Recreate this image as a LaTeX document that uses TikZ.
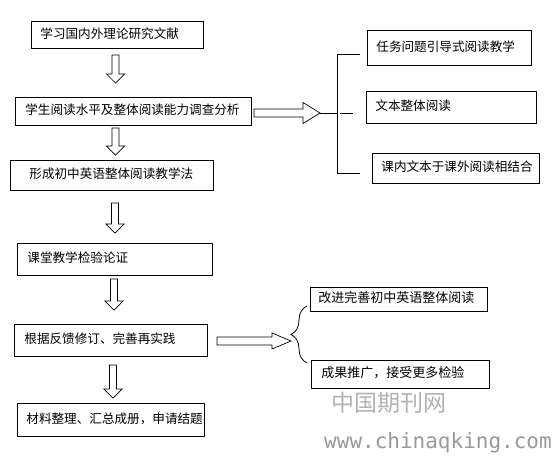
\documentclass[tikz,border=0pt]{standalone}
\usepackage{fontspec}
\setmainfont{Noto Sans CJK SC}
\newfontfamily\urlfont{DejaVu Sans Mono}
\usepackage{tikz}
\usetikzlibrary{positioning,decorations.pathreplacing}

\newcommand{\vblock}[5]{%
  \draw[blockarrow] (#1-#4,#2) -- (#1+#4,#2) -- (#1+#4,#3-9) -- (#1+#5,#3-9) -- (#1,#3)
    -- (#1-#5,#3-9) -- (#1-#4,#3-9) -- cycle;}
\newcommand{\hblock}[6]{%
  \draw[blockarrow] (#1,#3-#4) -- (#2-#6,#3-#4) -- (#2-#6,#3-#5) -- (#2,#3)
    -- (#2-#6,#3+#5) -- (#2-#6,#3+#4) -- (#1,#3+#4) -- cycle;}

\begin{document}
\begin{tikzpicture}[x=1pt, y=-1pt, font=\fontsize{12.6}{14}\selectfont,
  box/.style={draw, line width=0.8pt, anchor=north west, inner ysep=0pt, align=left, text depth=4pt},
  blockarrow/.style={draw, line width=0.7pt, fill=white, line join=miter},
  fork/.style={line width=0.8pt}]
  \fill[white] (0,0) rectangle (554,459);
  \useasboundingbox (0,0) rectangle (554,459);

  \node[box, inner xsep=9pt, text width=154pt, minimum height=27pt] (lit) at (31,21) {学习国内外理论研究文献};
  \node[box, inner xsep=10pt, text width=216pt, minimum height=28pt] (survey) at (15,97) {学生阅读水平及整体阅读能力调查分析};
  \node[box, inner xsep=19pt, text width=165pt, minimum height=30pt] (method) at (10,160) {形成初中英语整体阅读教学法};
  \node[box, inner xsep=10pt, text width=175pt, minimum height=32pt] (verify) at (17,243) {课堂教学检验论证};
  \node[box, inner xsep=10pt, text width=173pt, minimum height=32pt] (revise) at (14,324) {根据反馈修订、完善再实践};
  \node[box, inner xsep=9pt, text width=169pt, minimum height=33pt] (summary) at (17,403) {材料整理、汇总成册，申请结题};

  \node[box, inner xsep=9pt, text width=146pt, minimum height=35pt] (task) at (367,30) {任务问题引导式阅读教学};
  \node[box, inner xsep=9pt, text width=152pt, minimum height=32pt] (whole) at (366,91) {文本整体阅读};
  \node[box, inner xsep=9pt, text width=149pt, minimum height=30pt] (combine) at (372,153) {课内文本于课外阅读相结合};
  \node[box, inner xsep=8pt, text width=161pt, minimum height=24pt, font=\fontsize{13}{15}\selectfont] (improve) at (310,287) {改进完善初中英语整体阅读};
  \node[box, inner xsep=10pt, text width=158pt, minimum height=28pt, font=\fontsize{13}{15}\selectfont] (promote) at (311,360) {成果推广，接受更多检验};

  \vblock{115.5}{55}{83}{3.5}{9}
  \vblock{115.5}{128}{155}{3.5}{9}
  \vblock{115}{203}{233}{3.5}{9}
  \vblock{114}{279}{310}{3.5}{9}
  \vblock{113}{365}{398}{3.5}{9}

  \hblock{254}{320}{113}{4}{10.5}{17}
  \hblock{217}{291}{341}{4}{8}{19}

  \coordinate (tip) at (320,113);
  \coordinate (fork) at (337,113);
  \coordinate (forktop) at (337,54);
  \coordinate (forkbot) at (337,173);
  \draw[fork] (tip) -- (fork);
  \draw[fork] (forktop) -- (forkbot);
  \draw[fork] (forktop) -- ++(23,0);
  \draw[fork] (forkbot) -- ++(23,0);
  \draw[fork] (340,113) -- (353,113);

  \draw[fork, decorate, decoration={brace, amplitude=16pt}] (307,363) -- (307,306);

  \node[text=black!30, font=\fontsize{23}{25}\selectfont] (wmcn) at (388.5,402.5) {中国期刊网};
  \node[text=black!40, font=\urlfont\fontsize{21}{23}\selectfont] (wmurl) at (438,443) {www.chinaqking.com};
\end{tikzpicture}
\end{document}
